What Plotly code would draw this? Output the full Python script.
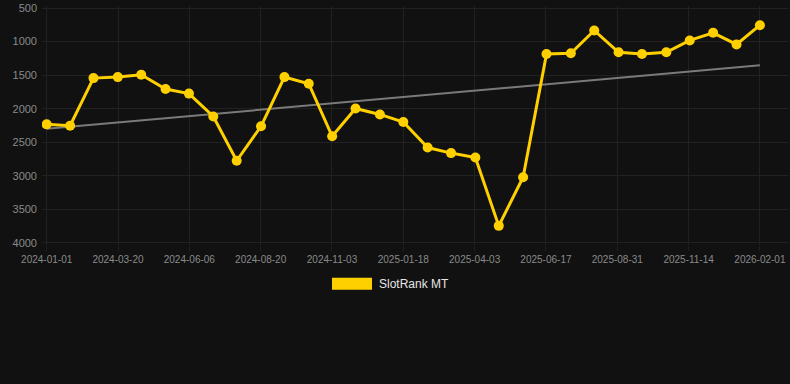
import numpy as np
import pandas as pd
import plotly.graph_objects as go

# Data (rank values; y axis reversed)
dates = [
    "2024-01-01", "2024-01-26", "2024-02-20", "2024-03-17", "2024-04-11",
    "2024-05-07", "2024-06-01", "2024-06-27", "2024-07-22", "2024-08-17",
    "2024-09-11", "2024-10-07", "2024-11-01", "2024-11-26", "2024-12-22",
    "2025-01-16", "2025-02-11", "2025-03-08", "2025-04-03", "2025-04-28",
    "2025-05-24", "2025-06-18", "2025-07-14", "2025-08-08", "2025-09-03",
    "2025-09-28", "2025-10-24", "2025-11-18", "2025-12-13", "2026-01-07",
    "2026-02-01",
]
ranks = [
    2233, 2253, 1544, 1529, 1494, 1706, 1775, 2115, 2775, 2262,
    1529, 1627, 2410, 1997, 2085, 2199, 2578, 2661, 2726, 3745,
    3021, 1184, 1175, 835, 1160, 1184, 1160, 983, 869, 1042, 756,
]
tick_labels = [
    "2024-01-01", "2024-03-20", "2024-06-06", "2024-08-20", "2024-11-03",
    "2025-01-18", "2025-04-03", "2025-06-17", "2025-08-31", "2025-11-14",
    "2026-02-01",
]
y_ticks = [500, 1000, 1500, 2000, 2500, 3000, 3500, 4000]
series_name = "SlotRank MT"

x = pd.to_datetime(dates)
start = x[0]
end = x[-1]
n_ticks = len(tick_labels)
tick_vals = [start + (end - start) * i / (n_ticks - 1) for i in range(n_ticks)]

# Linear trend
idx = np.arange(len(ranks))
coef = np.polyfit(idx, ranks, 1)
trend = np.polyval(coef, idx)

YELLOW = "#FFD000"
BG = "#111111"
GRID = "#212121"
TICK = "#8a8a8a"

L, R, T, B = 42, 2, 4, 139
W = 790 - L - R
H = 384 - T - B


def px(xp):
    return (xp - L) / W


def py(yp):
    return (384 - B - yp) / H


fig = go.Figure()
fig.add_trace(go.Scatter(
    x=[x[0], x[-1]], y=[trend[0], trend[-1]], mode="lines",
    line=dict(color="#7a7a7a", width=2), showlegend=False, hoverinfo="skip",
))
fig.add_trace(go.Scatter(
    x=x, y=ranks, mode="lines+markers", name=series_name,
    line=dict(color=YELLOW, width=3),
    marker=dict(color=YELLOW, size=10),
    showlegend=False,
))

fig.update_layout(
    width=790, height=384,
    paper_bgcolor=BG, plot_bgcolor=BG,
    margin=dict(l=L, r=R, t=T, b=B),
    font=dict(family="Liberation Sans, Arial, sans-serif", size=11, color=TICK),
    xaxis=dict(
        type="date",
        range=[start - pd.Timedelta(days=5), end + pd.Timedelta(days=30)],
        tickmode="array", tickvals=tick_vals, ticktext=tick_labels,
        showgrid=True, gridcolor=GRID, gridwidth=1,
        zeroline=False, showline=False,
        ticks="outside", ticklen=5, tickcolor=GRID,
        tickfont=dict(size=10, color=TICK),
        ticklabeloverflow="allow",
    ),
    yaxis=dict(
        range=[4030, 470], tickmode="array", tickvals=y_ticks,
        showgrid=True, gridcolor=GRID, gridwidth=1,
        zeroline=False, showline=False,
        ticks="", ticklabelstandoff=4,
        tickfont=dict(size=11, color=TICK),
        ticklabeloverflow="allow",
    ),
    showlegend=False,
    shapes=[dict(
        type="rect", xref="paper", yref="paper",
        x0=px(332), x1=px(372), y0=py(290), y1=py(278),
        fillcolor=YELLOW, line=dict(width=0),
    )],
    annotations=[dict(
        xref="paper", yref="paper",
        x=px(377), y=py(284),
        xanchor="left", yanchor="middle", showarrow=False,
        text=series_name, font=dict(size=12, color="#e6e6e6"),
    )],
)

fig.write_html(
    "out.html",
    config={"displayModeBar": False},
    post_script="document.body.style.margin='0';document.body.style.background='#111111';",
)
